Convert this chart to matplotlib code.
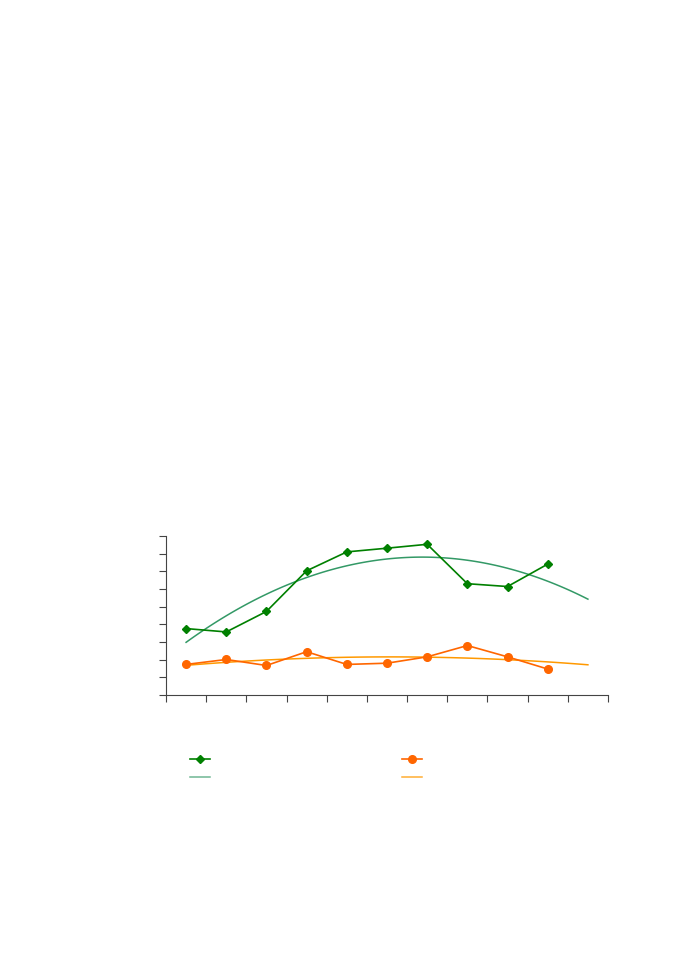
import matplotlib.pyplot as plt
import numpy as np
from matplotlib.lines import Line2D

# category positions (11 slots on the axis, data in the first 10)
cats = np.arange(1, 12)
x_data = cats[:10]

green_vals = [3.76, 3.57, 4.73, 7.03, 8.10, 8.31, 8.53, 6.30, 6.14, 7.41]
orange_vals = [1.73, 2.01, 1.67, 2.45, 1.73, 1.80, 2.16, 2.80, 2.16, 1.47]

# 2nd order trend lines as in the original, drawn over slots 1..11
x_fit = np.linspace(1, 11, 101)
green_fit = np.polyval(np.polyfit(x_data, green_vals, 2), x_fit)
orange_fit = np.polyval(np.polyfit(x_data, orange_vals, 2), x_fit)

fig = plt.figure(figsize=(6.78, 9.6), dpi=100)
ax = fig.add_axes([166/678, 265/960, 442/678, 159/960])

ax.plot(x_fit, green_fit, color='#339966', lw=1.1)
ax.plot(x_fit, orange_fit, color='#FF9900', lw=1.1)
ax.plot(x_data, green_vals, color='#008000', lw=1.2, marker='D', ms=4.5)
ax.plot(x_data, orange_vals, color='#FF6600', lw=1.2, marker='o', ms=5.5)

ax.set_xlim(0.5, 11.5)
ax.set_ylim(0, 9)
ax.set_xticks(np.arange(0.5, 12, 1))
ax.set_yticks(np.arange(0, 10, 1))
ax.tick_params(direction='out', length=5, width=0.8, color='#444444',
               labelbottom=False, labelleft=False)
for side in ['top', 'right']:
    ax.spines[side].set_visible(False)
for side in ['left', 'bottom']:
    ax.spines[side].set_color('#444444')
    ax.spines[side].set_linewidth(0.8)

h1 = [Line2D([], [], color='#008000', lw=1.2, marker='D', ms=4.5),
      Line2D([], [], color='#339966', lw=1.1, alpha=0.7)]
h2 = [Line2D([], [], color='#FF6600', lw=1.2, marker='o', ms=5.5),
      Line2D([], [], color='#FF9900', lw=1.1, alpha=0.8)]

leg1 = fig.legend(h1, [' ', ' '], loc='upper left', bbox_to_anchor=(190/678, 1 - 753/960),
                  frameon=False, handlelength=1.45, labelspacing=0.3, fontsize=10,
                  borderpad=0, borderaxespad=0)
leg2 = fig.legend(h2, [' ', ' '], loc='upper left', bbox_to_anchor=(402/678, 1 - 753/960),
                  frameon=False, handlelength=1.45, labelspacing=0.3, fontsize=10,
                  borderpad=0, borderaxespad=0)

plt.savefig('out.png', dpi=100)
